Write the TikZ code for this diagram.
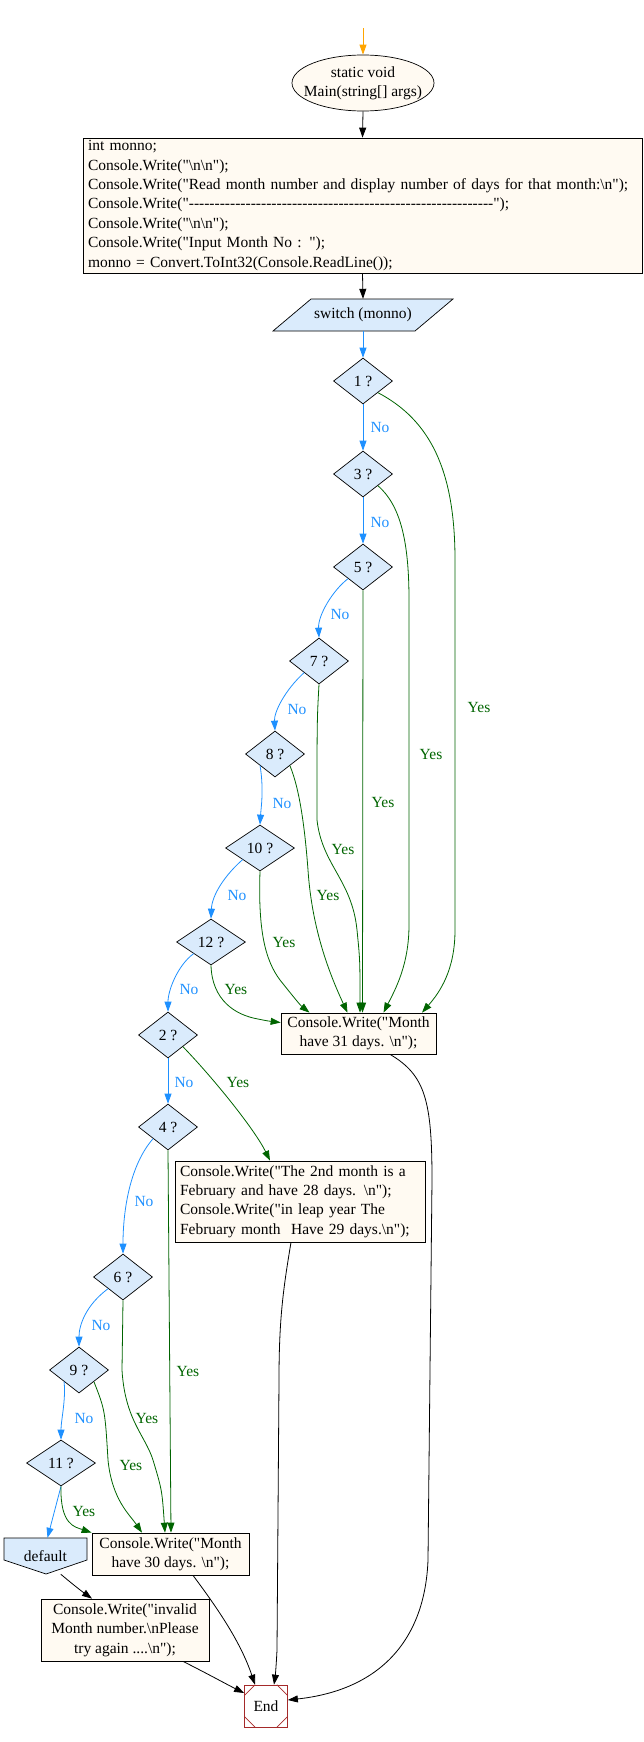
\documentclass[tikz,border=0pt]{standalone}
\usepackage{fontspec}
\setmainfont{Liberation Serif}[Ligatures=TeXOff]
\usetikzlibrary{shapes.geometric,arrows.meta}
\definecolor{cream}{RGB}{255,250,242}
\definecolor{lblue}{RGB}{218,235,252}
\definecolor{noblue}{RGB}{30,144,255}
\definecolor{yesgreen}{RGB}{0,100,0}
\definecolor{endred}{RGB}{165,42,42}
\definecolor{startorange}{RGB}{255,165,0}
\newcommand{\bsl}{\textbackslash}
\tikzset{
  txt/.style={font=\fontsize{15.5}{19.4}\selectfont},
  dia/.style={txt, shape=diamond, aspect=1.28, draw=black, fill=lblue, line width=0.7pt,
    minimum width=59pt, minimum height=46pt, inner sep=0pt},
  dia2/.style={dia, minimum width=69pt},
  box/.style={txt, rectangle, draw=black, fill=cream, line width=0.7pt, align=center,
    inner sep=2pt},
  startel/.style={txt, ellipse, draw=black, fill=cream, line width=0.7pt, align=center,
    minimum width=142pt, minimum height=56pt, inner xsep=-12pt, inner ysep=0pt},
  endnode/.style={txt, rectangle, draw=endred, fill=white, line width=0.7pt,
    minimum width=43pt, minimum height=42pt, inner sep=0pt},
  plain/.style={txt, inner sep=0pt},
  yeslab/.style={txt, text=yesgreen, inner sep=0pt},
  nolab/.style={txt, text=noblue, inner sep=0pt},
  arr/.style={line width=0.8pt, -{Triangle[length=10pt,width=7pt]}},
  yesedge/.style={arr, draw=yesgreen},
  noedge/.style={arr, draw=noblue},
  blkedge/.style={arr, draw=black},
  startedge/.style={arr, draw=startorange},
}
\begin{document}
\begin{tikzpicture}[x=1pt,y=-1pt]
\useasboundingbox (0,0) rectangle (644,1742);

% ---------- nodes ----------
\coordinate (st) at (363,28);
\node[startel] (el) at (363,83) {static void\\Main(string[] args)};
\node[box, align=left, text width=549pt, inner xsep=5pt, inner ysep=0pt, minimum height=135pt]
  (code) at (362.5,205.5) {int monno;\\
Console.Write("\bsl n\bsl n");\\
Console.Write("Read month number and display number of days for that month:\bsl n");\\
Console.Write("-----------------------------------------------------------");\\
Console.Write("\bsl n\bsl n");\\
Console.Write("Input Month No : ");\\
monno = Convert.ToInt32(Console.ReadLine());};

\draw[fill=lblue, line width=0.7pt] (273,331) -- (311,299) -- (453,299) -- (415,331) -- cycle;
\node[plain, minimum width=142pt, minimum height=32pt] (sw) at (363,315) {switch (monno)};

\node[dia] (d1) at (363,381) {1 ?};
\node[dia] (d3) at (363,474) {3 ?};
\node[dia] (d5) at (363,567) {5 ?};
\node[dia] (d7) at (319,661) {7 ?};
\node[dia] (d8) at (275,754) {8 ?};
\node[dia2] (d10) at (260,848) {10 ?};
\node[dia2] (d12) at (211,942) {12 ?};
\node[dia] (d2) at (168,1035) {2 ?};
\node[dia] (d4) at (168,1127) {4 ?};
\node[dia] (d6) at (123,1277) {6 ?};
\node[dia] (d9) at (79,1370) {9 ?};
\node[dia2] (d11) at (61,1463) {11 ?};

\draw[fill=lblue, line width=0.7pt] (4,1538) -- (87,1538) -- (87,1560) -- (46,1574) -- (4,1560) -- cycle;
\node[plain, minimum width=83pt, minimum height=36pt] (def) at (45.5,1556) {default};

\node[box, minimum width=155pt, minimum height=41pt] (m31) at (358.5,1033.5)
  {Console.Write("Month\\have 31 days. \bsl n");};
\node[box, align=left, text width=240pt, inner xsep=5pt, inner ysep=0pt, minimum height=81pt]
  (feb) at (300,1201.5) {Console.Write("The 2nd month is a\\February and have 28 days. \bsl n");\\Console.Write("in leap year The\\February month\ \ Have 29 days.\bsl n");};
\node[box, minimum width=157pt, minimum height=42pt] (m30) at (170.5,1554)
  {Console.Write("Month\\have 30 days. \bsl n");};
\node[box, minimum width=168pt, minimum height=62pt] (inv) at (125,1630)
  {Console.Write("invalid\\Month number.\bsl nPlease\\try again ....\bsl n");};
\node[endnode] (end) at (266,1706) {End};
\draw[endred, line width=0.7pt]
  ([xshift=11pt]end.north west) -- ([yshift=-11pt]end.north west)
  ([xshift=-11pt]end.north east) -- ([yshift=-11pt]end.north east)
  ([xshift=11pt]end.south west) -- ([yshift=11pt]end.south west)
  ([xshift=-11pt]end.south east) -- ([yshift=11pt]end.south east);

% ---------- main flow ----------
\draw[startedge] (st) -- (el.north);
\draw[blkedge] (el.south) -- (code.north);
\draw[blkedge] (code.south) -- (sw.north);
\draw[noedge] (sw.south) -- (d1.north);

% ---------- No edges ----------
\draw[noedge] (d1.south) -- (d3.north);
\draw[noedge] (d3.south) -- (d5.north);
\draw[noedge] (d5.south west) .. controls (333,590) and (318,615) .. (d7.north);
\draw[noedge] (d7.south west) .. controls (285,690) and (274,712) .. (d8.north);
\draw[noedge] (d8.south west) .. controls (264,790) and (261,808) .. (d10.north);
\draw[noedge] (d10.south west) .. controls (225,875) and (212,895) .. (d12.north);
\draw[noedge] (d12.south west) .. controls (178,965) and (168,990) .. (d2.north);
\draw[noedge] (d2.south) -- (d4.north);
\draw[noedge] (d4.south west) .. controls (130,1165) and (123,1210) .. (d6.north);
\draw[noedge] (d6.south west) .. controls (86,1305) and (79,1325) .. (d9.north);
\draw[noedge] (d9.south west) .. controls (66,1400) and (61,1420) .. (d11.north);
\draw[noedge] (d11.south) -- ([xshift=2pt]def.north);

\node[nolab] (n1) at (380,427) {No};
\node[nolab] (n3) at (380,522) {No};
\node[nolab] (n5) at (340,614) {No};
\node[nolab] (n7) at (297,709) {No};
\node[nolab] (n8) at (282,803) {No};
\node[nolab] (n10) at (237,895) {No};
\node[nolab] (n12) at (189,989) {No};
\node[nolab] (n2) at (184,1082) {No};
\node[nolab] (n4) at (144,1201) {No};
\node[nolab] (n6) at (101,1325) {No};
\node[nolab] (n9) at (84,1418) {No};

% ---------- Yes edges ----------
\draw[yesedge] (d1.south east) .. controls (430,420) and (455,470) .. (455,560) -- (455,930)
  .. controls (455,970) and (440,992) .. ([xshift=63.5pt]m31.north);
\draw[yesedge] (d3.south east) .. controls (400,505) and (409,540) .. (409,600) -- (409,925)
  .. controls (409,965) and (395,990) .. ([xshift=25pt]m31.north);
\draw[yesedge] (d5.south) -- ([xshift=4pt]m31.north);
\draw[yesedge] (d7.south) .. controls (317,720) .. (317,820)
  .. controls (322,865) and (352,880) .. (357,930) .. controls (360,960) .. ([xshift=1.5pt]m31.north);
\draw[yesedge] (d8.south east) .. controls (300,790) and (305,830) .. (308,870)
  .. controls (312,930) and (330,975) .. ([xshift=-11pt]m31.north);
\draw[yesedge] (d10.south) .. controls (258,930) and (265,960) .. (280,980)
  .. controls (292,995) and (300,1005) .. ([xshift=-49pt]m31.north);
\draw[yesedge] (d12.south) .. controls (212,1000) and (235,1015) .. (258,1019)
  .. controls (268,1021) .. ([yshift=11pt]m31.west);
\draw[yesedge] (d2.south east) .. controls (215,1080) and (255,1130) .. ([xshift=-30pt]feb.north);
\draw[yesedge] (d4.south) -- ([xshift=0.5pt]m30.north);
\draw[yesedge] (d6.south) -- (122,1370) .. controls (125,1420) and (145,1435) .. (153,1460)
  .. controls (162,1490) .. ([xshift=-5.5pt]m30.north);
\draw[yesedge] (d9.south east) .. controls (105,1410) .. (108,1460)
  .. controls (112,1500) and (130,1515) .. ([xshift=-28.5pt]m30.north);
\draw[yesedge] (d11.south) .. controls (60,1525) and (75,1527) .. (m30.north west);

\node[yeslab] (y1) at (479,707) {Yes};
\node[yeslab] (y3) at (431,754) {Yes};
\node[yeslab] (y5) at (383,802) {Yes};
\node[yeslab] (y7) at (343,849) {Yes};
\node[yeslab] (y8) at (328,895) {Yes};
\node[yeslab] (y10) at (284,942) {Yes};
\node[yeslab] (y12) at (236,989) {Yes};
\node[yeslab] (y2) at (238,1082) {Yes};
\node[yeslab] (y4) at (188,1371) {Yes};
\node[yeslab] (y6) at (147,1418) {Yes};
\node[yeslab] (y9) at (131,1465) {Yes};
\node[yeslab] (y11) at (84,1511) {Yes};

% ---------- to End ----------
\draw[blkedge] ([xshift=31.5pt]m31.south) .. controls (425,1075) and (432,1100) .. (432,1180)
  -- (428,1560) .. controls (425,1640) and (380,1690) .. ([yshift=6pt]end.east);
\draw[blkedge] ([xshift=-9pt]feb.south) .. controls (283,1290) and (279,1320) .. (279,1380)
  -- (277,1650) .. controls (276,1670) and (275,1678) .. ([xshift=8pt]end.north);
\draw[blkedge] ([xshift=22.5pt]m30.south) .. controls (215,1605) and (240,1640) .. ([xshift=-11pt]end.north);
\draw[blkedge] (def.-50) .. controls (70,1582) and (80,1590) .. ([xshift=-33pt]inv.north);
\draw[blkedge] ([xshift=58pt]inv.south) .. controls (210,1675) and (228,1685) .. ([yshift=13pt]end.west);
\end{tikzpicture}
\end{document}
